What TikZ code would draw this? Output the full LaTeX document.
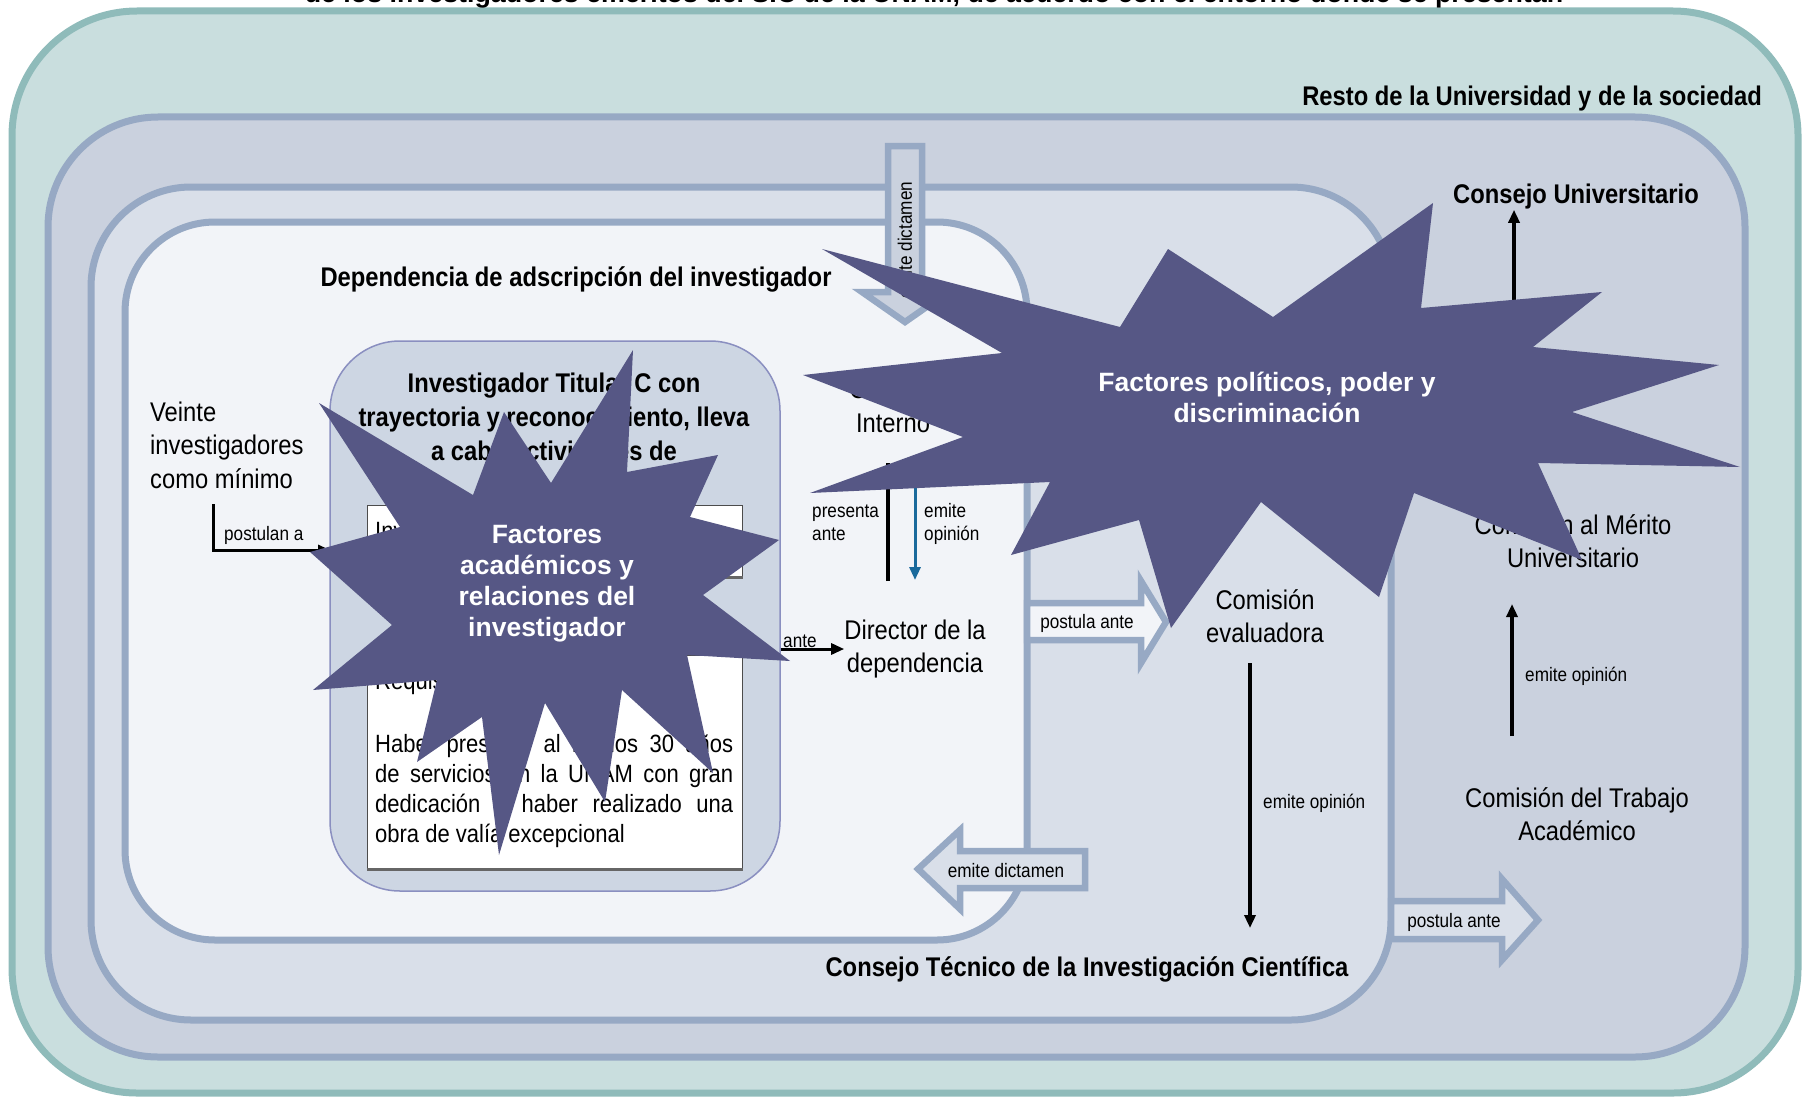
\documentclass[tikz,border=0pt]{standalone}
\usepackage{fontspec}
\setmainfont[FakeStretch=0.88]{Liberation Sans}
\newfontfamily\starfont{Liberation Sans}
\usetikzlibrary{arrows.meta}

\definecolor{OuterFill}{HTML}{C9DEDE}
\definecolor{OuterLine}{HTML}{8FBBBA}
\definecolor{LayerLine}{HTML}{97A9C4}
\definecolor{UnivFill}{HTML}{CAD1DE}
\definecolor{CticFill}{HTML}{D9DFE9}
\definecolor{DepFill}{HTML}{F2F4F8}
\definecolor{CargoFill}{HTML}{CDD6E3}
\definecolor{CargoLine}{HTML}{8A8FC0}
\definecolor{StarFill}{HTML}{565785}
\definecolor{OpinionBlue}{HTML}{1A6A9C}

\begin{document}
\begin{tikzpicture}
        [x=1pt,y=-1pt,
        Big/.style={font=\fontsize{27}{33.5}\selectfont,align=center,inner sep=0pt},
        Head/.style={font=\fontsize{27}{34}\selectfont\bfseries,align=center,inner sep=0pt},
        Small/.style={font=\fontsize{19.5}{23}\selectfont,align=left,inner sep=0pt},
        Req/.style={font=\fontsize{25}{30}\selectfont,inner sep=0pt},
        StarText/.style={font=\starfont\fontsize{26.5}{31}\selectfont\bfseries,text=white,align=center,inner sep=0pt},
        Layer/.style={draw=LayerLine,line width=7pt},
        BlockArrow/.style={draw=LayerLine,line width=6.5pt,line join=miter},
        Arrow/.style={line width=3.5pt,-{Triangle[length=13pt,width=11pt]}},
        Caja/.style={draw=black!70,fill=white,line width=1.2pt,inner sep=0pt},
        Star/.style={fill=StarFill}]
        \useasboundingbox (0,0) rectangle (1803,1097);
        % capas del entorno
        \filldraw[fill=OuterFill,draw=OuterLine,line width=7pt,rounded corners=125pt] (12,11) rectangle (1798,1093);
        \filldraw[Layer,fill=UnivFill,rounded corners=110pt] (48,117) rectangle (1745,1057);
        \filldraw[Layer,fill=CticFill,rounded corners=100pt] (91,187) rectangle (1391,1020);
        \filldraw[Layer,fill=DepFill,rounded corners=90pt] (125,222) rectangle (1027,940);

        \node[font=\starfont\fontsize{26.8}{34}\selectfont\bfseries,inner sep=0pt,anchor=base] (title) at (934,3) {de los investigadores eméritos del SIC de la UNAM, de acuerdo con el entorno donde se presentan};
        \node[Head,anchor=east] (resto) at (1762,99) {Resto de la Universidad y de la sociedad};
        \node[Head] (cu) at (1576,197) {Consejo Universitario};
        \node[Head] (dep) at (576,279) {Dependencia de adscripción del investigador};
        \node[Head] (ctic) at (1087,969) {Consejo Técnico de la Investigación Científica};

        % investigador
        \node[draw=CargoLine,fill=CargoFill,line width=1.5pt,rounded corners=70pt,minimum width=450pt,minimum height=550pt] (cargo) at (555,616) {};
        \node[Head] (titular) at (554,417) {Investigador Titular C con\\trayectoria y reconocimiento, lleva\\a cabo actividades de};
        \node[Caja,minimum width=375pt,minimum height=71pt,anchor=north west] (tareas) at (367,505) {};
        \node[Caja,minimum width=375pt,minimum height=213pt,anchor=north west] (requisitos) at (367,655) {};
        \draw[line width=3pt,black!60] (tareas.south west) -- (tareas.south east);
        \draw[line width=3pt,black!60] (requisitos.south west) -- (requisitos.south east);
        \node[Req,anchor=west] (inv) at (375,533) {Investigación, docencia y difusión};
        \node[Req,anchor=west] (req) at (375,683) {Requisitos:};
        \node[Req,anchor=north west,text width=358pt,align=justify] (haber) at (375,734) {Haber prestado al menos 30 años\linebreak de servicios en la UNAM con gran\linebreak dedicación o haber realizado una\linebreak obra de valía excepcional};

        \node[Big,align=left,anchor=west] (veinte) at (150,445) {Veinte\\investigadores\\como mínimo};
        \node[Big] (interno) at (893,406) {Consejo\\Interno};
        \node[Big] (director) at (915,649) {Director de la\\dependencia};
        \node[Big] (evaluadora) at (1265,616) {Comisión\\evaluadora};
        \node[Big] (merito) at (1573,541) {Comisión al Mérito\\Universitario};
        \node[Big] (cta) at (1577,814) {Comisión del Trabajo\\Académico};

        % flechas anchas
        \filldraw[BlockArrow,fill=UnivFill] (888,146) -- (922,146) -- (922,292) -- (948,292) -- (905,322) -- (862,292) -- (888,292) -- cycle;
        \node[Small,rotate=90] (dictamen1) at (905,240) {emite dictamen};
        \filldraw[BlockArrow,fill=CticFill] (1085,851) -- (960,851) -- (960,830) -- (918,869) -- (960,909) -- (960,888) -- (1085,888) -- cycle;
        \node[Small] (dictamen2) at (1006,871) {emite dictamen};
        \filldraw[BlockArrow,fill=DepFill] (1027,603) -- (1141,603) -- (1141,581) -- (1166,622) -- (1141,663) -- (1141,640) -- (1027,640) -- cycle;
        \node[Small] (postula1) at (1087,623) {postula ante};
        \filldraw[BlockArrow,fill=CticFill] (1391,901) -- (1502,901) -- (1502,879) -- (1538,920) -- (1502,960) -- (1502,939) -- (1391,939) -- cycle;
        \node[Small] (postula2) at (1454,922) {postula ante};

        % conectores
        \coordinate (veinteBot) at (213,504);
        \coordinate (cargoIn) at (330,550);
        \draw[Arrow,line width=3pt,-{Triangle[length=12pt,width=10pt]}] (veinteBot) |- (cargoIn);
        \node[Small,anchor=west] (postulan) at (224,535) {postulan a};
        \draw[Arrow,line width=3pt] (cargo.east |- director.west) -- (director.west);
        \node[Small,anchor=west] (ante) at (783,641) {ante};
        \coordinate (dirTop) at (888,581);
        \coordinate (intBot) at (888,463);
        \draw[line width=4pt] (dirTop) -- (intBot);
        \node[Small,anchor=west] (presenta) at (812,523) {presenta\\ante};
        \coordinate (intBot2) at (915,466);
        \coordinate (dirTop2) at (915,580);
        \draw[Arrow,line width=3pt,OpinionBlue] (intBot2) -- (dirTop2);
        \node[Small,anchor=west] (opinion1) at (924,524) {emite\\opinión};
        \coordinate (evalBot) at (1250,663);
        \coordinate (cticTop) at (1250,928);
        \draw[Arrow] (evalBot) -- (cticTop);
        \node[Small,anchor=west] (opinion2) at (1263,803) {emite opinión};
        \coordinate (ctaTop) at (1512,736);
        \coordinate (meritoBot) at (1512,604);
        \draw[Arrow] (ctaTop) -- (meritoBot);
        \node[Small,anchor=west] (opinion3) at (1525,676) {emite opinión};
        \coordinate (meritoTop) at (1514,470);
        \draw[Arrow] (meritoTop) -- (cu.south -| meritoTop);

        % factores
        \fill[Star] (310,552) -- (400,527) -- (319,403) -- (473,495) -- (504,412) -- (551,483) -- (633,350) -- (627,472) -- (718,455) -- (690,517) -- (779,540) -- (703,595) -- (790,661) -- (687,655) -- (713,773) -- (622,690) -- (605,802) -- (545,703) -- (499,855) -- (482,717) -- (417,762) -- (437,680) -- (313,690) -- (392,625) -- cycle;
        \node[StarText] (academicos) at (547,583.5) {Factores\\académicos y\\relaciones del\\investigador};
        \fill[Star] (803,375) -- (1002,353) -- (822,249) -- (1120,327) -- (1168,249) -- (1273,317) -- (1433,203) -- (1421,308) -- (1602,292) -- (1533,347) -- (1719,365) -- (1572,412) -- (1740,467) -- (1538,463) -- (1582,560) -- (1414,493) -- (1379,597) -- (1261,502) -- (1171,628) -- (1139,520) -- (1011,555) -- (1050,482) -- (810,493) -- (963,437) -- cycle;
        \node[StarText] (politicos) at (1267,397) {Factores políticos, poder y\\discriminación};
\end{tikzpicture}
\end{document}
